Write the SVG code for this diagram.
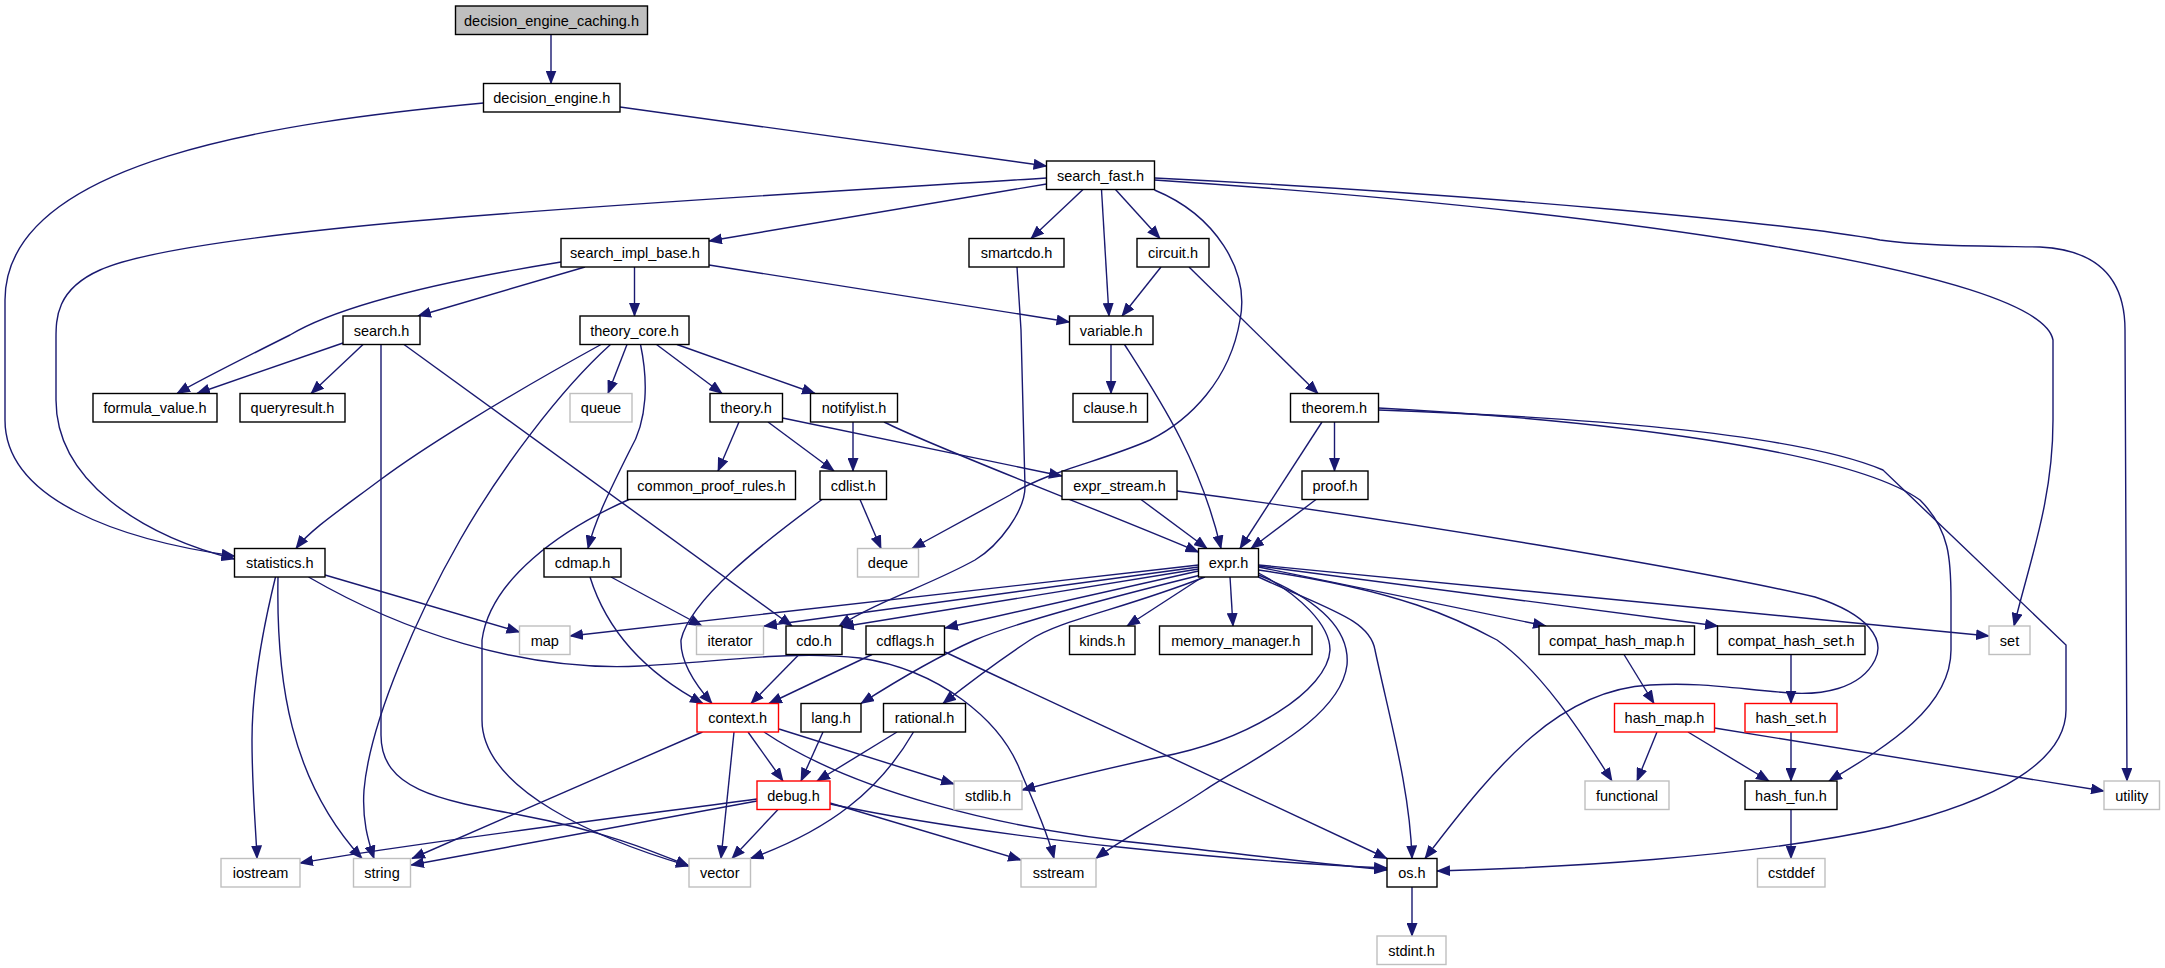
<svg xmlns="http://www.w3.org/2000/svg" width="2165" height="968" viewBox="0 0 2165 968">
<style>
.b{fill:#fff;stroke:#000;stroke-width:1.4}
.g{fill:#fff;stroke:#bfbfbf;stroke-width:1.4}
.r{fill:#fff;stroke:#ff0000;stroke-width:1.4}
.top{fill:#bfbfbf;stroke:#000;stroke-width:1.4}
text{font-family:"Liberation Sans",Arial,sans-serif;font-size:14.5px;text-anchor:middle;fill:#000}
#edges path{fill:none;stroke:#191970;stroke-width:1.4;marker-end:url(#a)}
</style>
<defs>
<marker id="a" markerWidth="14" markerHeight="11" refX="13" refY="5.5" orient="auto" markerUnits="userSpaceOnUse"><path d="M0,0L14,5.5L0,11z" fill="#191970"/></marker>
</defs>
<rect width="2165" height="968" fill="#fff"/>
<g id="edges">
<path d="M551,34.5L551,83.5"/>
<path d="M483.5,103C280,122 5,160 5,300L5,420C5,500 120,540 234.5,556"/>
<path d="M620,107L1046.5,166"/>
<path d="M1046.5,178C700,200 200,225 100,270C55,290 56,320 56,340L56,400C56,480 140,535 234.5,559"/>
<path d="M1046.5,184L709,241"/>
<path d="M1083,189.5L1031,238.5"/>
<path d="M1101.5,189.5L1109,316"/>
<path d="M1115.5,189.5L1160,238.5"/>
<path d="M1154.5,190C1215,215 1250,270 1240,320C1230,380 1190,420 1150,440C1100,462 1050,470 1010,495L912,548.5"/>
<path d="M1154.5,180C1600,210 2040,270 2053,340L2053,420C2053,500 2030,560 2014,626"/>
<path d="M1154.5,178C1500,195 1800,225 1880,240C1920,246 1980,246 2040,247C2100,250 2125,280 2125,330L2127,781"/>
<path d="M585,267L418,316"/>
<path d="M634.5,267L634.5,316"/>
<path d="M561,262C450,280 340,305 290,335C240,360 200,380 177,393.5"/>
<path d="M709,265L1069.5,322"/>
<path d="M343,343L197,393.5"/>
<path d="M363,344.5L311,393.5"/>
<path d="M381,344.5L381,735C381,790 440,800 520,815C600,830 650,850 689,866"/>
<path d="M404,344.5L792,626"/>
<path d="M601,344.5C500,400 420,450 380,480C340,510 310,530 296,548.5"/>
<path d="M610.5,344.5C560,390 500,470 460,540C420,610 370,720 364,790C362,820 368,840 374,858.5"/>
<path d="M627,344.5L608,393.5"/>
<path d="M640.5,344.5C648,380 648,420 630,450C610,490 595,520 588,548.5"/>
<path d="M656.5,344.5L722,393.5"/>
<path d="M677,344.5L815,393.5"/>
<path d="M1017,267L1021,330L1025,487C1025,510 1000,545 975,560C930,585 880,600 839,626"/>
<path d="M1161,267L1122,316"/>
<path d="M1189,267L1318,393.5"/>
<path d="M1111,344.5L1111,393.5"/>
<path d="M1124.5,344.5C1160,400 1200,460 1221,548.5"/>
<path d="M739,422L718,471"/>
<path d="M768,422L834,471"/>
<path d="M782.5,418L1062,476"/>
<path d="M853,422L853,471"/>
<path d="M884,422C940,450 1100,510 1198.5,552"/>
<path d="M1322,422L1240,548.5"/>
<path d="M1334.5,422L1334.5,471"/>
<path d="M1378.5,408C1600,420 1850,450 1920,500C1950,530 1951,560 1951,600L1951,650C1951,710 1880,750 1829,781"/>
<path d="M1378.5,410C1600,418 1800,435 1883,470L2066,645L2066,710C2066,760 2000,800 1888,827C1750,858 1550,868 1437,871"/>
<path d="M629,499.5C560,530 490,580 482,640L482,720C482,790 600,840 689,866"/>
<path d="M860,499.5L881,548.5"/>
<path d="M822,499.5C760,545 690,600 681,640C680,665 700,690 712,703.5"/>
<path d="M590,577C605,625 640,670 703,703.5"/>
<path d="M611,577L702,626"/>
<path d="M325,575L519.5,632"/>
<path d="M308.5,577C400,630 520,672 640,666C720,662 790,650 860,658C940,670 1000,720 1020,770C1035,805 1048,835 1054,858.5"/>
<path d="M275.5,577C265,620 252,680 252,740C252,790 256,830 257,858.5"/>
<path d="M278,577C276,680 290,780 362,858.5"/>
<path d="M1198.5,565L570,636"/>
<path d="M1198.5,567L764,626"/>
<path d="M1198.5,569L841,627"/>
<path d="M1198.5,571L945,628"/>
<path d="M1201,575C1100,600 1010,625 975,640C930,660 890,685 861,703.5"/>
<path d="M1205,577C1120,610 1060,620 1030,640C1000,660 960,690 943,703.5"/>
<path d="M1202.5,577L1127,626"/>
<path d="M1230,577L1233,626"/>
<path d="M1258.5,573C1300,595 1330,625 1330,650C1328,690 1250,740 1160,757C1100,770 1060,780 1022,790"/>
<path d="M1258.5,575C1320,600 1350,630 1347,665C1340,720 1250,760 1205,790C1160,820 1120,840 1096,858.5"/>
<path d="M1258.5,577C1330,610 1370,620 1375,650C1390,720 1410,790 1412,858.5"/>
<path d="M1258.5,570C1400,590 1460,620 1497,640C1540,670 1580,730 1612,781"/>
<path d="M1258.5,567L1546,626"/>
<path d="M1258.5,566L1718,626"/>
<path d="M1258.5,565L1989,636"/>
<path d="M1141,499.5L1207,548.5"/>
<path d="M1177,491C1400,520 1700,570 1815,597C1870,615 1885,640 1875,660C1860,690 1820,695 1790,693C1730,688 1700,682 1650,685C1560,690 1500,760 1425,858.5"/>
<path d="M1316,499.5L1251,548.5"/>
<path d="M799,654.5L751,703.5"/>
<path d="M872,654.5L769,703.5"/>
<path d="M945,652L1387,858.5"/>
<path d="M702.5,732L412,858.5"/>
<path d="M734,732L721,858.5"/>
<path d="M748,732L783,781"/>
<path d="M779,729L954,784"/>
<path d="M764,732C850,790 1000,830 1159,845C1250,855 1330,865 1387,870"/>
<path d="M823,732L801,781"/>
<path d="M897,732L817,781"/>
<path d="M913.5,732C880,790 830,830 750.5,858.5"/>
<path d="M757,799C600,820 400,845 300,863"/>
<path d="M757,801L411,865"/>
<path d="M778,809.5L732,858.5"/>
<path d="M830,803L1021,860"/>
<path d="M830,804C1000,840 1250,862 1387,868"/>
<path d="M1624,654.5L1654,703.5"/>
<path d="M1791,654.5L1791,703.5"/>
<path d="M1657,732L1637,781"/>
<path d="M1688,732L1769,781"/>
<path d="M1714.5,728L2104,791"/>
<path d="M1791,732L1791,781"/>
<path d="M1791,809.5L1791,858.5"/>
<path d="M1412,887L1412,936"/>
</g>
<g id="n_caching"><rect class="top" x="455.5" y="6" width="192" height="28.5"/><text x="551.5" y="25.5">decision_engine_caching.h</text></g>
<g id="n_decision_engine"><rect class="b" x="483.5" y="83.5" width="136.5" height="28.5"/><text x="551.75" y="103">decision_engine.h</text></g>
<g id="n_search_fast"><rect class="b" x="1046.5" y="161" width="108" height="28.5"/><text x="1100.5" y="180.5">search_fast.h</text></g>
<g id="n_search_impl_base"><rect class="b" x="561" y="238.5" width="148" height="28.5"/><text x="635" y="258">search_impl_base.h</text></g>
<g id="n_smartcdo"><rect class="b" x="969" y="238.5" width="95" height="28.5"/><text x="1016.5" y="258">smartcdo.h</text></g>
<g id="n_circuit"><rect class="b" x="1137" y="238.5" width="72" height="28.5"/><text x="1173" y="258">circuit.h</text></g>
<g id="n_search"><rect class="b" x="343" y="316" width="77" height="28.5"/><text x="381.5" y="335.5">search.h</text></g>
<g id="n_theory_core"><rect class="b" x="580" y="316" width="109" height="28.5"/><text x="634.5" y="335.5">theory_core.h</text></g>
<g id="n_variable"><rect class="b" x="1069.5" y="316" width="83.5" height="28.5"/><text x="1111.25" y="335.5">variable.h</text></g>
<g id="n_formula_value"><rect class="b" x="93" y="393.5" width="124" height="28.5"/><text x="155" y="413">formula_value.h</text></g>
<g id="n_queryresult"><rect class="b" x="240" y="393.5" width="105" height="28.5"/><text x="292.5" y="413">queryresult.h</text></g>
<g id="n_queue"><rect class="g" x="570" y="393.5" width="62" height="28.5"/><text x="601" y="413">queue</text></g>
<g id="n_theory"><rect class="b" x="710" y="393.5" width="72.5" height="28.5"/><text x="746.25" y="413">theory.h</text></g>
<g id="n_notifylist"><rect class="b" x="810.5" y="393.5" width="87" height="28.5"/><text x="854" y="413">notifylist.h</text></g>
<g id="n_clause"><rect class="b" x="1073" y="393.5" width="74.5" height="28.5"/><text x="1110.25" y="413">clause.h</text></g>
<g id="n_theorem"><rect class="b" x="1290.5" y="393.5" width="88" height="28.5"/><text x="1334.5" y="413">theorem.h</text></g>
<g id="n_common_proof_rules"><rect class="b" x="627.5" y="471" width="168" height="28.5"/><text x="711.5" y="490.5">common_proof_rules.h</text></g>
<g id="n_cdlist"><rect class="b" x="820" y="471" width="66.5" height="28.5"/><text x="853.25" y="490.5">cdlist.h</text></g>
<g id="n_expr_stream"><rect class="b" x="1062" y="471" width="115" height="28.5"/><text x="1119.5" y="490.5">expr_stream.h</text></g>
<g id="n_proof"><rect class="b" x="1302" y="471" width="66" height="28.5"/><text x="1335" y="490.5">proof.h</text></g>
<g id="n_statistics"><rect class="b" x="234.5" y="548.5" width="90.5" height="28.5"/><text x="279.75" y="568">statistics.h</text></g>
<g id="n_cdmap"><rect class="b" x="544" y="548.5" width="77" height="28.5"/><text x="582.5" y="568">cdmap.h</text></g>
<g id="n_deque"><rect class="g" x="857.5" y="548.5" width="61" height="28.5"/><text x="888" y="568">deque</text></g>
<g id="n_expr"><rect class="b" x="1198.5" y="548.5" width="60" height="28.5"/><text x="1228.5" y="568">expr.h</text></g>
<g id="n_map"><rect class="g" x="519.5" y="626" width="50.5" height="28.5"/><text x="544.75" y="645.5">map</text></g>
<g id="n_iterator"><rect class="g" x="696.5" y="626" width="67" height="28.5"/><text x="730" y="645.5">iterator</text></g>
<g id="n_cdo"><rect class="b" x="786" y="626" width="56" height="28.5"/><text x="814" y="645.5">cdo.h</text></g>
<g id="n_cdflags"><rect class="b" x="866" y="626" width="78.5" height="28.5"/><text x="905.25" y="645.5">cdflags.h</text></g>
<g id="n_kinds"><rect class="b" x="1069.5" y="626" width="65.5" height="28.5"/><text x="1102.25" y="645.5">kinds.h</text></g>
<g id="n_memory_manager"><rect class="b" x="1159.5" y="626" width="152.5" height="28.5"/><text x="1235.75" y="645.5">memory_manager.h</text></g>
<g id="n_compat_hash_map"><rect class="b" x="1539" y="626" width="155.5" height="28.5"/><text x="1616.75" y="645.5">compat_hash_map.h</text></g>
<g id="n_compat_hash_set"><rect class="b" x="1717.5" y="626" width="147.5" height="28.5"/><text x="1791.25" y="645.5">compat_hash_set.h</text></g>
<g id="n_set"><rect class="g" x="1989" y="626" width="41" height="28.5"/><text x="2009.5" y="645.5">set</text></g>
<g id="n_context"><rect class="r" x="697" y="703.5" width="81.5" height="28.5"/><text x="737.75" y="723">context.h</text></g>
<g id="n_lang"><rect class="b" x="801" y="703.5" width="60" height="28.5"/><text x="831" y="723">lang.h</text></g>
<g id="n_rational"><rect class="b" x="883.5" y="703.5" width="82" height="28.5"/><text x="924.5" y="723">rational.h</text></g>
<g id="n_hash_map"><rect class="r" x="1614.5" y="703.5" width="100" height="28.5"/><text x="1664.5" y="723">hash_map.h</text></g>
<g id="n_hash_set"><rect class="r" x="1745" y="703.5" width="92" height="28.5"/><text x="1791" y="723">hash_set.h</text></g>
<g id="n_debug"><rect class="r" x="757" y="781" width="73" height="28.5"/><text x="793.5" y="800.5">debug.h</text></g>
<g id="n_stdlib"><rect class="g" x="954" y="781" width="68" height="28.5"/><text x="988" y="800.5">stdlib.h</text></g>
<g id="n_functional"><rect class="g" x="1585" y="781" width="84" height="28.5"/><text x="1627" y="800.5">functional</text></g>
<g id="n_hash_fun"><rect class="b" x="1745" y="781" width="92" height="28.5"/><text x="1791" y="800.5">hash_fun.h</text></g>
<g id="n_utility"><rect class="g" x="2104" y="781" width="55.5" height="28.5"/><text x="2131.75" y="800.5">utility</text></g>
<g id="n_iostream"><rect class="g" x="221" y="858.5" width="79" height="28.5"/><text x="260.5" y="878">iostream</text></g>
<g id="n_string"><rect class="g" x="353.5" y="858.5" width="57" height="28.5"/><text x="382" y="878">string</text></g>
<g id="n_vector"><rect class="g" x="689" y="858.5" width="61.5" height="28.5"/><text x="719.75" y="878">vector</text></g>
<g id="n_sstream"><rect class="g" x="1021" y="858.5" width="75" height="28.5"/><text x="1058.5" y="878">sstream</text></g>
<g id="n_os"><rect class="b" x="1387" y="858.5" width="50" height="28.5"/><text x="1412" y="878">os.h</text></g>
<g id="n_cstddef"><rect class="g" x="1757.5" y="858.5" width="67.5" height="28.5"/><text x="1791.25" y="878">cstddef</text></g>
<g id="n_stdint"><rect class="g" x="1377" y="936" width="69" height="28.5"/><text x="1411.5" y="955.5">stdint.h</text></g>
</svg>
